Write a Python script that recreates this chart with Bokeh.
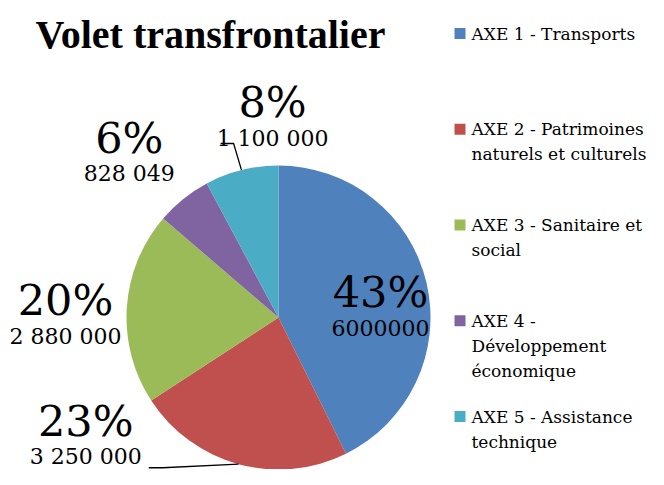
import math
from bokeh.plotting import figure
from bokeh.models import Range1d, ColumnDataSource
from bokeh.core.properties import value
from bokeh.embed import file_html
from bokeh.resources import INLINE

# ---------------- data ----------------
title = "Volet transfrontalier"
categories = ["AXE 1 - Transports",
              "AXE 2 - Patrimoines naturels et culturels",
              "AXE 3 - Sanitaire et social",
              "AXE 4 - Développement économique",
              "AXE 5 - Assistance technique"]
legend_lines = [["AXE 1 - Transports"],
                ["AXE 2 - Patrimoines", "naturels et culturels"],
                ["AXE 3 - Sanitaire et", "social"],
                ["AXE 4 -", "Développement", "économique"],
                ["AXE 5 - Assistance", "technique"]]
amounts = [6000000, 3250000, 2880000, 828049, 1100000]
amount_labels = ["6000000", "3 250 000", "2 880 000", "828 049", "1 100 000"]
colors = ["#4F81BD", "#C0504D", "#9BBB59", "#8064A2", "#4BACC6"]

# ---------------- layout ----------------
W, H = 648, 469
def sy(y):  # pixel row in the figure -> data y
    return H - y

CX, CY, R = 278, 317, 152          # pie centre / radius in pixels
# label anchor (value baseline) in polar coords relative to slice mid angle
label_r = [102.5, 237.8, 213.8, 207.2, 179.1]
label_shift = [-18.8, -38.9, 8.8, 7.3, -12.2]   # degrees
PCT_UP = 36                                       # percent baseline above value baseline
# leader lines (elbow/end offsets from label anchor), None = no leader
leaders = [None, ((77, 11), (63, 11)), None, None, ((-39, 5), (-52, 5))]

SERIF = "DejaVu Serif"

p = figure(width=W, height=H, x_range=Range1d(0, W), y_range=Range1d(0, H),
           output_backend="svg", toolbar_location=None, min_border=0)
p.axis.visible = False
p.grid.visible = False
p.outline_line_color = None
p.background_fill_color = "white"
p.border_fill_color = "white"

total = float(sum(amounts))
fr = [a / total for a in amounts]
cum = [0.0]
for f in fr:
    cum.append(cum[-1] + f)
starts = [math.pi / 2 - 2 * math.pi * c for c in cum[:-1]]
ends = [math.pi / 2 - 2 * math.pi * c for c in cum[1:]]
mids = [(s + e) / 2 for s, e in zip(starts, ends)]

src = ColumnDataSource(dict(start=starts, end=ends, color=colors, cat=categories))
p.wedge(x=CX, y=sy(CY), radius=R, start_angle="start", end_angle="end",
        direction="clock", fill_color="color", line_color=None, source=src)

pct_x, pct_y, val_x, val_y, pct_txt = [], [], [], [], []
for i, a in enumerate(amounts):
    ang = mids[i] + math.radians(label_shift[i])
    ax = CX + label_r[i] * math.cos(ang)
    ay = CY - label_r[i] * math.sin(ang)
    val_x.append(ax); val_y.append(sy(ay))
    pct_x.append(ax); pct_y.append(sy(ay - PCT_UP))
    pct_txt.append(f"{round(100 * a / total)}%")
    if leaders[i] is not None:
        ex = CX + R * math.cos(mids[i])
        ey = CY - R * math.sin(mids[i])
        (e1x, e1y), (e2x, e2y) = leaders[i]
        p.line([ex, ax + e1x, ax + e2x], [sy(ey), sy(ay + e1y), sy(ay + e2y)],
               line_color="black", line_width=1.3)

p.text(x=pct_x, y=pct_y, text=pct_txt, text_align="center", text_baseline="alphabetic",
       text_font=value(SERIF), text_font_size="43px", text_color="black")
p.text(x=val_x, y=val_y, text=amount_labels, text_align="center", text_baseline="alphabetic",
       text_font=value(SERIF), text_font_size="22px", text_color="black")

# title
p.text(x=[210], y=[sy(34)], text=[title], text_align="center", text_baseline="alphabetic",
       text_font=value("Liberation Serif"), text_font_style="bold",
       text_font_size="40px", text_color="black")

# legend
LEG_X0, LEG_Y0, LEG_STEP, LINE_H, SQ = 459.5, 33, 95.75, 25, 11
sq_x, sq_y, lt_x, lt_y, lt_t = [], [], [], [], []
for i, lines in enumerate(legend_lines):
    y0 = LEG_Y0 + i * LEG_STEP
    sq_x.append(LEG_X0); sq_y.append(sy(y0))
    for j, t in enumerate(lines):
        lt_x.append(LEG_X0 + 11.5); lt_y.append(sy(y0 + j * LINE_H)); lt_t.append(t)
p.rect(x=sq_x, y=sq_y, width=SQ, height=SQ, fill_color=colors, line_color=None)
p.text(x=lt_x, y=lt_y, text=lt_t, text_align="left", text_baseline="middle",
       text_font=value(SERIF), text_font_size="17px", text_color="black")

open("out.html", "w").write(file_html(p, INLINE))
